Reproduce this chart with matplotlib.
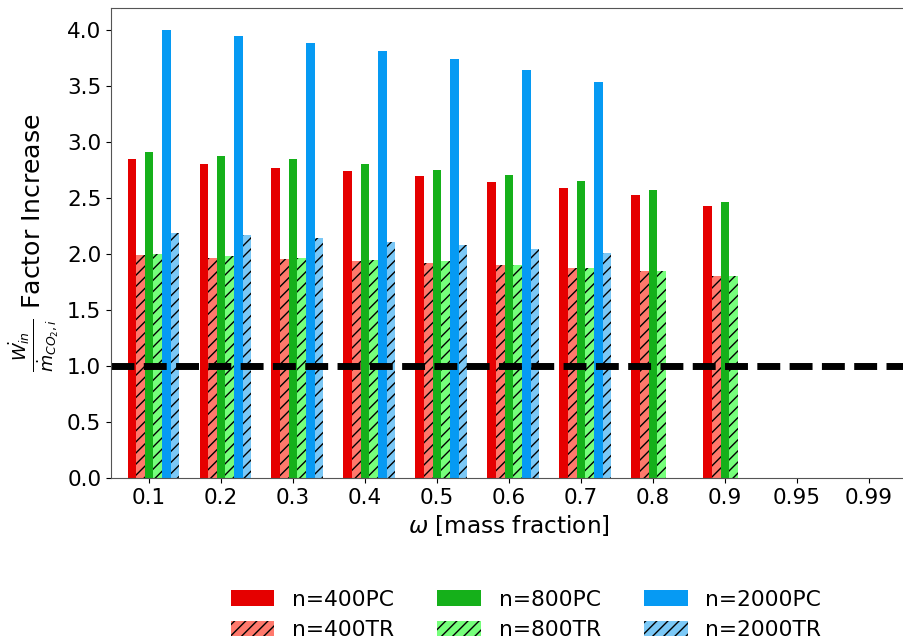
import numpy as np
import matplotlib
matplotlib.use("Agg")
import matplotlib.pyplot as plt

categories = ["0.1", "0.2", "0.3", "0.4", "0.5", "0.6", "0.7", "0.8", "0.9", "0.95", "0.99"]
nan = np.nan
pc400 = [2.85, 2.81, 2.77, 2.745, 2.70, 2.645, 2.595, 2.53, 2.43, nan, nan]
tr400 = [1.99, 1.97, 1.955, 1.94, 1.925, 1.905, 1.88, 1.85, 1.805, nan, nan]
pc800 = [2.91, 2.88, 2.85, 2.81, 2.755, 2.71, 2.65, 2.575, 2.47, nan, nan]
tr800 = [2.00, 1.985, 1.97, 1.95, 1.94, 1.90, 1.875, 1.85, 1.805, nan, nan]
pc2000 = [4.00, 3.95, 3.89, 3.815, 3.74, 3.65, 3.54, nan, nan, nan, nan]
tr2000 = [2.185, 2.17, 2.145, 2.11, 2.08, 2.05, 2.01, nan, nan, nan, nan]
series_labels = ["n=400PC", "n=400TR", "n=800PC", "n=800TR", "n=2000PC", "n=2000TR"]
reference_level = 1.0

fig = plt.figure(figsize=(9.04, 6.44), dpi=100)
W, H = 904, 644
ax = fig.add_axes([111 / W, 1 - 478 / H, (907 - 111) / W, (478 - 8) / H])

x = np.arange(len(categories))
w = 0.12
specs = [
    (pc400, -2, "#e50000", None),
    (tr400, -1, "#ff796c", "///"),
    (pc800, 0, "#15b01a", None),
    (tr800, 1, "#76ff7b", "///"),
    (pc2000, 2, "#069af3", None),
    (tr2000, 3, "#7bc8f6", "///"),
]
handles = []
for (vals, off, col, hatch), lab in zip(specs, series_labels):
    b = ax.bar(x + off * w, vals, w, color=col, hatch=hatch, label=lab, linewidth=0)
    handles.append(b)

ax.axhline(reference_level, color="black", linewidth=5, linestyle=(0, (3.3, 1.35)))

ax.set_xlim(-0.53, 10.53)
ax.set_ylim(0, 4.2)
ax.set_xticks(x)
ax.set_xticklabels(categories)
ax.set_yticks(np.arange(0, 4.01, 0.5))
ax.tick_params(labelsize=15.5)
ax.set_xlabel(r"$\omega$ [mass fraction]", fontsize=16.7)
ax.set_ylabel(r"$\frac{\dot{W_{in}}}{\dot{m}_{CO_2,i}}$ Factor Increase", fontsize=18.2)
for s in ax.spines.values():
    s.set_color("#555555")

fig.legend(handles=handles, labels=series_labels, ncol=3, frameon=False,
           fontsize=15.7, loc="center",
           bbox_to_anchor=(526 / W, 1 - 615 / H), columnspacing=2.0, labelspacing=0.5)

fig.savefig("out.png", dpi=100)
